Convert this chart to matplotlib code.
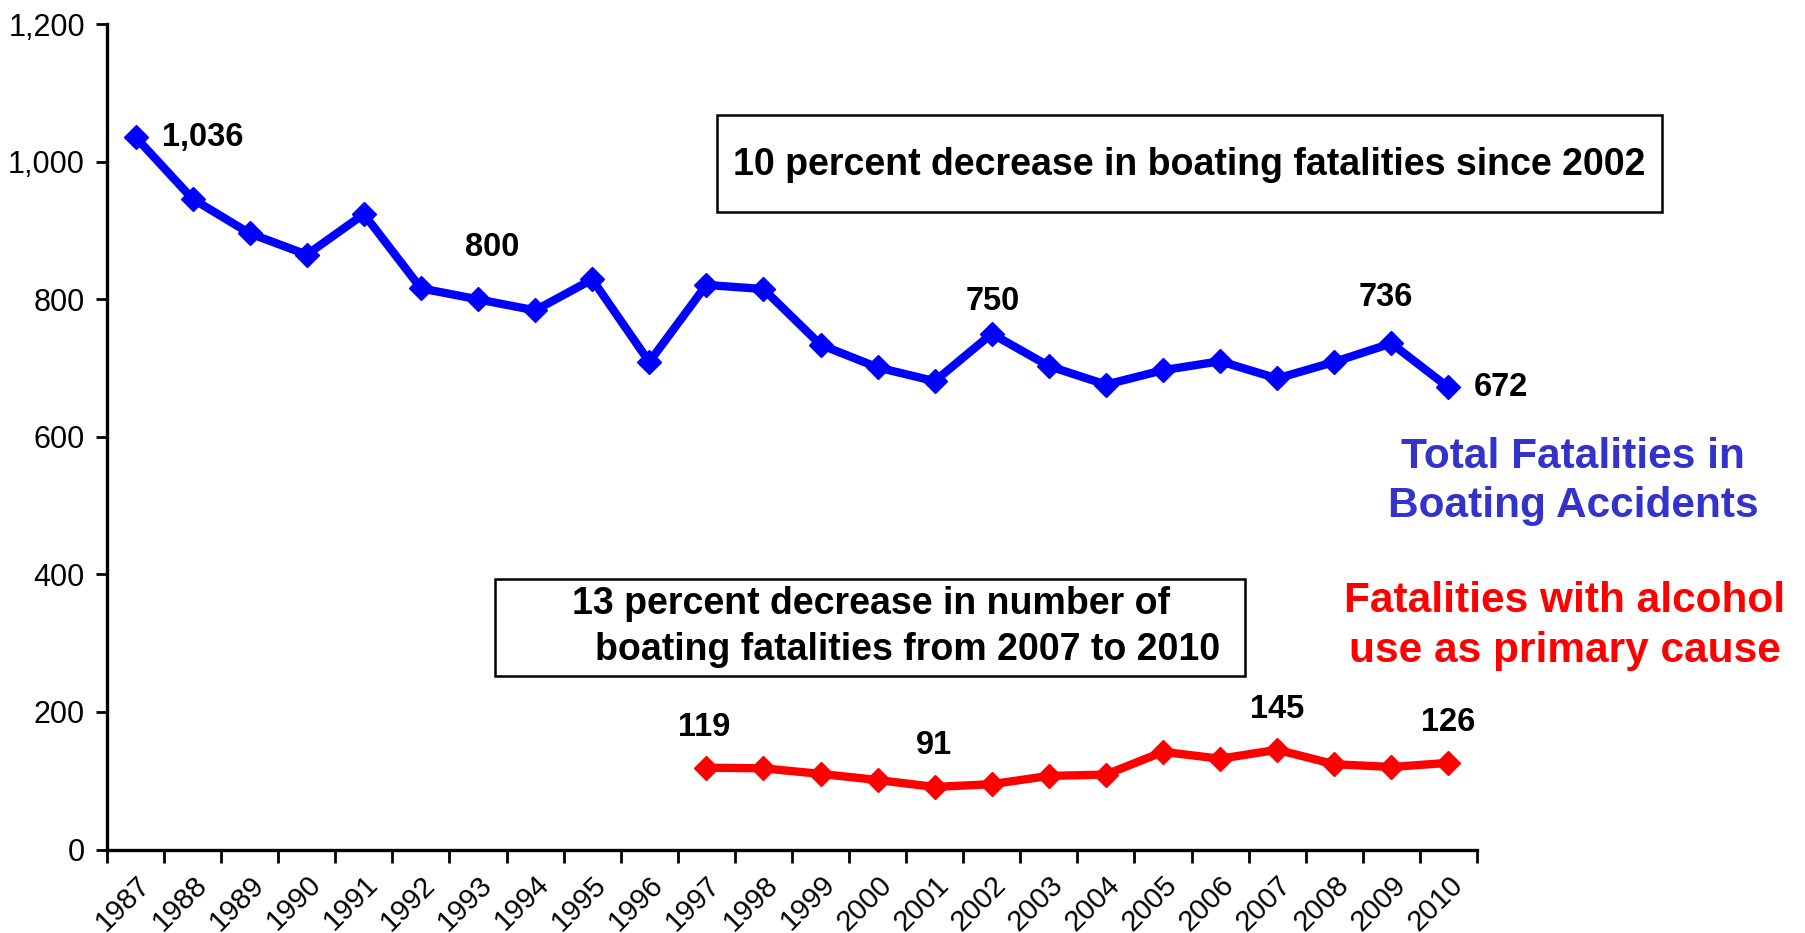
import matplotlib
matplotlib.use("Agg")
import matplotlib.pyplot as plt
from matplotlib.patches import Rectangle
from matplotlib.ticker import FuncFormatter

plt.rcParams["font.family"] = ["Liberation Sans", "DejaVu Sans"]

years = list(range(1987, 2011))
total = [1036, 946, 896, 865, 924, 816, 800, 784, 829, 709, 821, 815,
         734, 701, 681, 750, 703, 676, 697, 710, 685, 709, 736, 672]
alcohol_years = list(range(1997, 2011))
alcohol = [119, 118, 110, 101, 91, 95, 107, 109, 142, 132, 145, 124, 120, 126]

# labels shown on the points: (year, value, dx px, dy px, ha)
total_labels = [(1987, 1036, 26, 0, "left"), (1993, 800, 14, 52, "center"),
                (2002, 750, 1, 32, "center"), (2009, 736, -6, 46, "center"),
                (2010, 672, 25, 0, "left")]
alcohol_labels = [(1997, 119, -2, 40, "center"), (2001, 91, -1, 41, "center"),
                  (2007, 145, 0, 40, "center"), (2010, 126, 0, 40, "center")]

W, H = 1806, 933
fig = plt.figure(figsize=(W / 100, H / 100), dpi=100)
ax = fig.add_axes([107 / W, 1 - 849.5 / H, (1477 - 107) / W, (849.5 - 24.3) / H])

xi = list(range(len(years)))
ax.plot(xi, total, color="#0000FF", lw=6, marker="D", ms=12, zorder=3)
ai = [years.index(y) for y in alcohol_years]
ax.plot(ai, alcohol, color="#FF0000", lw=6, marker="D", ms=12, zorder=3)

for y, v, dx, dy, ha in total_labels + alcohol_labels:
    ax.annotate(f"{v:,}", (years.index(y), v), xytext=(dx * 0.72, dy * 0.72),
                textcoords="offset points", ha=ha, va="center",
                fontsize=23.5, fontweight="bold")

ax.set_xlim(-0.5, len(years) - 0.5)
ax.set_ylim(0, 1200)
ax.set_yticks(range(0, 1201, 200))
ax.yaxis.set_major_formatter(FuncFormatter(lambda v, p: f"{int(v):,}"))
ax.tick_params(axis="y", labelsize=22, length=8, width=2, pad=8)

ax.set_xticks([k - 0.5 for k in range(len(years) + 1)])
ax.set_xticklabels([])
ax.set_xticks(xi, minor=True)
ax.set_xticklabels([str(y) for y in years], minor=True, rotation=45,
                   ha="right", va="top", rotation_mode="anchor", fontsize=21)
ax.tick_params(axis="x", which="major", length=9, width=2)
ax.tick_params(axis="x", which="minor", length=0, pad=15)

for s in ["top", "right"]:
    ax.spines[s].set_visible(False)
for s in ["left", "bottom"]:
    ax.spines[s].set_linewidth(2.4)

# boxed notes
fig.patches.append(Rectangle((717 / W, 1 - 212 / H), (1662 - 717) / W, (212 - 115) / H,
                             transform=fig.transFigure, fill=False, lw=1.8, ec="black"))
fig.text(1189 / W, 1 - 165 / H, "10 percent decrease in boating fatalities since 2002",
         ha="center", va="center", fontsize=27, fontweight="bold")

fig.patches.append(Rectangle((495 / W, 1 - 676 / H), (1245 - 495) / W, (676 - 579) / H,
                             transform=fig.transFigure, fill=False, lw=1.8, ec="black"))
fig.text(572 / W, 1 - 604 / H, "13 percent decrease in number of",
         ha="left", va="center", fontsize=27, fontweight="bold")
fig.text(595 / W, 1 - 650 / H, "boating fatalities from 2007 to 2010",
         ha="left", va="center", fontsize=27, fontweight="bold")

# series captions on the right
fig.text(1573 / W, 1 - 457 / H, "Total Fatalities in", ha="center", va="center",
         fontsize=30.5, fontweight="bold", color="#3333CC")
fig.text(1573 / W, 1 - 506 / H, "Boating Accidents", ha="center", va="center",
         fontsize=30.5, fontweight="bold", color="#3333CC")
fig.text(1565 / W, 1 - 601 / H, "Fatalities with alcohol", ha="center", va="center",
         fontsize=30.5, fontweight="bold", color="#FF0000")
fig.text(1565 / W, 1 - 651 / H, "use as primary cause", ha="center", va="center",
         fontsize=30.5, fontweight="bold", color="#FF0000")

fig.savefig("out.png", dpi=100)
